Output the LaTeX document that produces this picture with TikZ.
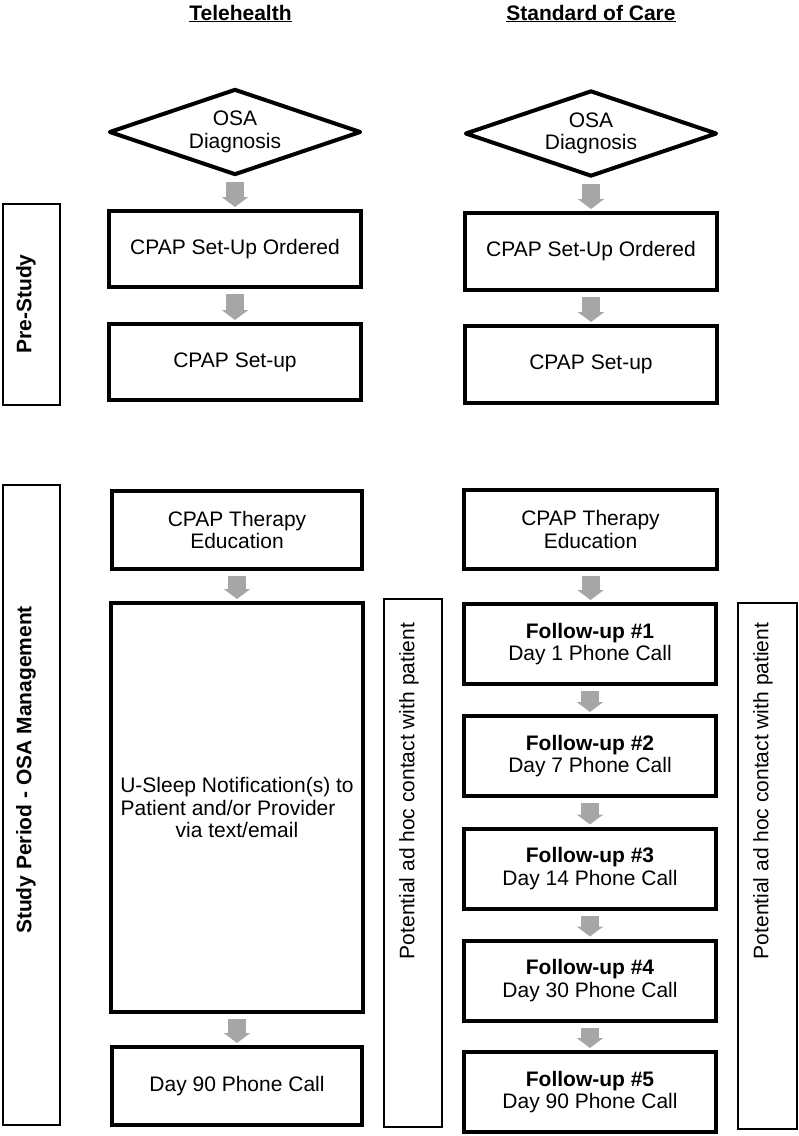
\documentclass[tikz,border=0pt]{standalone}
\usepackage{fontspec}
\setmainfont{Liberation Sans}
\usetikzlibrary{shapes.geometric,arrows.meta}
\definecolor{arrowgray}{RGB}{166,166,166}
\begin{document}
\begin{tikzpicture}[x=1pt,y=-1pt,
  every node/.style={font=\fontsize{21}{22.5}\selectfont, inner sep=0pt, align=center},
  flowbox/.style={draw, line width=4pt, rectangle},
  decision/.style={draw, line width=4pt, diamond, line join=round, aspect=2.9, minimum width=252pt, minimum height=86pt},
  sidebox/.style={draw, line width=2pt, rectangle},
  sidetext/.style={rotate=90},
  blockarrow/.style={draw=arrowgray, line width=18pt, -{Triangle[width=26pt,length=10pt]}, shorten <=5pt, shorten >=2pt},
  title/.style={font=\fontsize{21}{22.5}\selectfont\bfseries, anchor=base}
]
\useasboundingbox (0,0) rectangle (799,1136);

% titles
\node[title] (t1) at (240.5,20) {\underline{Telehealth}};
\node[title] (t2) at (591,20) {\underline{Standard of Care}};

% left column
\node[decision] (LD) at (235,132) {OSA\\Diagnosis};
\node[flowbox, minimum width=252pt, minimum height=76pt] (L1) at (235,249) {CPAP Set-Up Ordered};
\node[flowbox, minimum width=252pt, minimum height=76pt] (L2) at (235,362) {CPAP Set-up};
\node[flowbox, minimum width=250pt, minimum height=78pt] (L3) at (237,530) {CPAP Therapy\\Education};
\node[flowbox, minimum width=252pt, minimum height=409pt] (L4) at (237,807.5) {U-Sleep Notification(s) to\\Patient and/or Provider\makebox[18pt]{}\\via text/email};
\node[flowbox, minimum width=250pt, minimum height=78pt] (L5) at (237,1086) {Day 90 Phone Call};

% right column
\node[decision] (RD) at (591,133.5) {OSA\\Diagnosis};
\node[flowbox, minimum width=252pt, minimum height=77pt] (R1) at (591,251.5) {CPAP Set-Up Ordered};
\node[flowbox, minimum width=252pt, minimum height=77pt] (R2) at (591,364.5) {CPAP Set-up};
\node[flowbox, minimum width=253pt, minimum height=79pt] (R3) at (590.5,529.5) {CPAP Therapy\\Education};
\node[flowbox, minimum width=252pt, minimum height=80pt] (F1) at (590,644) {\textbf{Follow-up \#1}\\Day 1 Phone Call};
\node[flowbox, minimum width=252pt, minimum height=80pt] (F2) at (590,756) {\textbf{Follow-up \#2}\\Day 7 Phone Call};
\node[flowbox, minimum width=252pt, minimum height=80pt] (F3) at (590,868.5) {\textbf{Follow-up \#3}\\Day 14 Phone Call};
\node[flowbox, minimum width=252pt, minimum height=80pt] (F4) at (590,980.5) {\textbf{Follow-up \#4}\\Day 30 Phone Call};
\node[flowbox, minimum width=252pt, minimum height=80pt] (F5) at (590,1092) {\textbf{Follow-up \#5}\\Day 90 Phone Call};

% side boxes
\node[sidebox, minimum width=57pt, minimum height=201pt] (PS) at (31.5,304.5) {};
\node[sidetext, font=\fontsize{21}{22.5}\selectfont\bfseries] (PSt) at (26,304) {Pre-Study};
\node[sidebox, minimum width=57pt, minimum height=640pt] (SP) at (31.5,805) {};
\node[sidetext, font=\fontsize{21}{22.5}\selectfont\bfseries] (SPt) at (26,770) {Study Period - OSA Management};
\node[sidebox, minimum width=58pt, minimum height=528pt] (PM) at (413,863) {};
\node[sidetext] (PMt) at (409,791) {Potential ad hoc contact with patient};
\node[sidebox, minimum width=59pt, minimum height=526pt] (PR) at (767.5,866) {};
\node[sidetext] (PRt) at (763,791) {Potential ad hoc contact with patient};

% arrows
\draw[blockarrow] (LD.south) -- (LD.south |- L1.north);
\draw[blockarrow] (L1.south) -- (L1.south |- L2.north);
\draw[blockarrow] (L3.south) -- (L3.south |- L4.north);
\draw[blockarrow] (L4.south) -- (L4.south |- L5.north);
\draw[blockarrow] (RD.south) -- (RD.south |- R1.north);
\draw[blockarrow] (R1.south) -- (R1.south |- R2.north);
\draw[blockarrow] (R3.south) -- (R3.south |- F1.north);
\draw[blockarrow] (F1.south) -- (F1.south |- F2.north);
\draw[blockarrow] (F2.south) -- (F2.south |- F3.north);
\draw[blockarrow] (F3.south) -- (F3.south |- F4.north);
\draw[blockarrow] (F4.south) -- (F4.south |- F5.north);
\end{tikzpicture}
\end{document}
